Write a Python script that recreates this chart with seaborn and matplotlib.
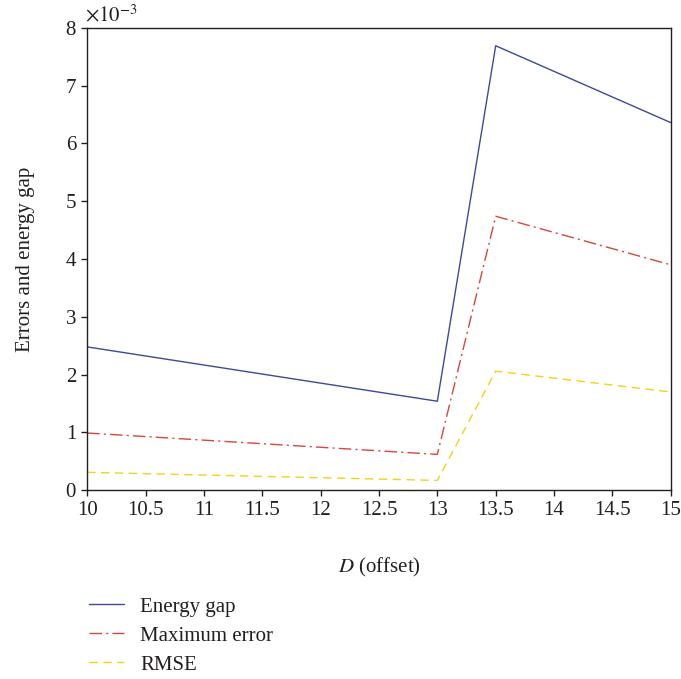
import matplotlib
matplotlib.use("Agg")
import matplotlib.pyplot as plt
import seaborn as sns
import pandas as pd
from matplotlib.lines import Line2D

sns.set_theme(style="ticks")
plt.rcParams['font.family'] = ['Liberation Serif', 'DejaVu Serif']
plt.rcParams['mathtext.fontset'] = 'stix'
TXT = "#231f20"

offsets = [10, 13, 13.5, 15]
energy_gap = [2.48, 1.54, 7.69, 6.36]
max_error = [0.99, 0.62, 4.74, 3.90]
rmse = [0.31, 0.17, 2.06, 1.70]
series_names = ["Energy gap", "Maximum error", "RMSE"]
colors = ["#3b4a99", "#d4473e", "#f2d214"]
dash_styles = ["-", (0, (9, 3, 1.5, 3)), (0, (6, 4))]
xtick_labels = ["10", "10.5", "11", "11.5", "12", "12.5", "13", "13.5", "14", "14.5", "15"]

df = pd.DataFrame({
    "D": offsets * 3,
    "val": energy_gap + max_error + rmse,
    "series": sum([[n] * len(offsets) for n in series_names], []),
})

fig = plt.figure(figsize=(6.81, 6.79), dpi=100)
ax = fig.add_axes([0.128, 0.278, 0.857, 0.681])

for name, c, ls in zip(series_names, colors, dash_styles):
    sub = df[df.series == name]
    sns.lineplot(data=sub, x="D", y="val", ax=ax, color=c, linewidth=1.0,
                 linestyle=ls, legend=False)

ax.set_xlim(10, 15)
ax.set_ylim(0, 8)
ax.set_xticks([float(t) for t in xtick_labels])
ax.set_xticklabels(xtick_labels)
ax.set_yticks(range(0, 9))
ax.tick_params(labelsize=15, direction="out", length=4, width=1, colors=TXT, pad=4)
for s in ax.spines.values():
    s.set_color(TXT)
    s.set_linewidth(1.0)
ax.set_xlabel("$\\mathit{D}$ (offset)", fontsize=15, labelpad=26, color=TXT)
ax.set_ylabel("Errors and energy gap", fontsize=15, labelpad=22, color=TXT)
ax.text(-0.003, 1.004, "$\\times10^{-3}$", transform=ax.transAxes, fontsize=15,
        ha="left", va="bottom", color=TXT)

handles = [Line2D([0], [0], color=c, linestyle=ls, linewidth=1.0) for c, ls in zip(colors, dash_styles)]
leg = fig.legend(handles, series_names, loc="upper left",
                 bbox_to_anchor=(89 / 681, 1 - 597 / 679), bbox_transform=fig.transFigure,
                 frameon=False, fontsize=15, handlelength=1.7, handletextpad=0.75,
                 labelspacing=0.45, borderpad=0, borderaxespad=0)
for t in leg.get_texts():
    t.set_color(TXT)

fig.savefig("out.png", dpi=100)
